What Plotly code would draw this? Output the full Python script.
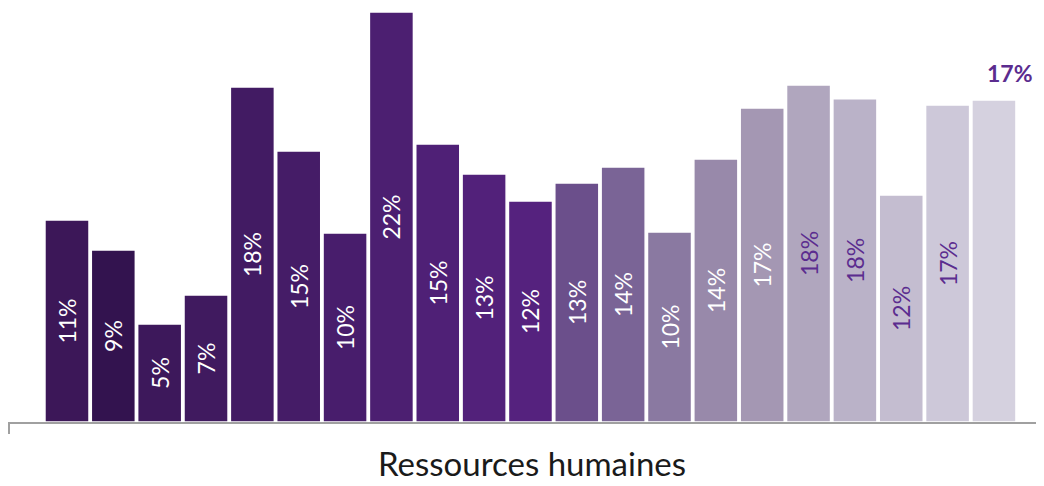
import plotly.graph_objects as go

categories = [f"P{i}" for i in range(1, 22)]
values = [0.1094, 0.0932, 0.0531, 0.0688, 0.1815, 0.1468, 0.1024, 0.2221, 0.1506,
          0.1343, 0.1197, 0.1295, 0.1381, 0.1029, 0.1425, 0.1701, 0.1826, 0.1752,
          0.1230, 0.1717, 0.1744]
bar_colors = ["#3c1758", "#33134f", "#3d185b", "#401a5f", "#421b63", "#451c67",
              "#481d6c", "#4c1f71", "#4f2076", "#52217a", "#55227e", "#6b4f8b",
              "#7a6496", "#8a79a1", "#9889aa", "#a497b3", "#b0a6be", "#bab2c8",
              "#c4bdd0", "#cdc8d9", "#d5d1df"]
label_purple = "#5b2c8f"
label_colors = ["#ffffff"] * 16 + [label_purple] * 5
axis_title = "Ressources humaines"

labels = [f"{round(v * 100)}%" for v in values]
inside_labels = labels[:-1] + [""]

fig = go.Figure()
fig.add_trace(go.Bar(
    x=categories, y=values,
    marker=dict(color=bar_colors, line=dict(color="#ffffff", width=1.5)),
    text=inside_labels, textposition="inside", insidetextanchor="middle",
    textangle=-90,
    textfont=dict(family="Lato", size=23, color=label_colors),
    hoverinfo="skip",
))

fig.add_annotation(x=categories[-1], y=values[-1], text=f"<b>{labels[-1]}</b>",
                   showarrow=False, yanchor="bottom", xshift=16, yshift=11,
                   font=dict(family="Lato", size=23, color=label_purple))

fig.add_annotation(xref="paper", yref="paper", x=0.5, y=0, yanchor="bottom",
                   text=axis_title, showarrow=False, xshift=5, yshift=-63,
                   font=dict(family="Lato", size=33, color="#1a1a1a"))

fig.add_shape(type="line", xref="paper", yref="paper", x0=0, x1=0, y0=0,
              y1=-12 / 414, line=dict(color="#a0a0a0", width=2))

fig.update_layout(
    width=1036, height=478,
    margin=dict(l=1, r=0, t=0, b=64),
    paper_bgcolor="#ffffff", plot_bgcolor="#ffffff",
    bargap=0.05, showlegend=False,
    xaxis=dict(range=[-1.251, 21.08], showticklabels=False, ticks="",
               showgrid=False, zeroline=False, showline=True,
               linecolor="#a0a0a0", linewidth=2, fixedrange=True),
    yaxis=dict(range=[0, 0.2243], visible=False, showgrid=False,
               zeroline=False, fixedrange=True),
)

fig.write_html("out.html")
